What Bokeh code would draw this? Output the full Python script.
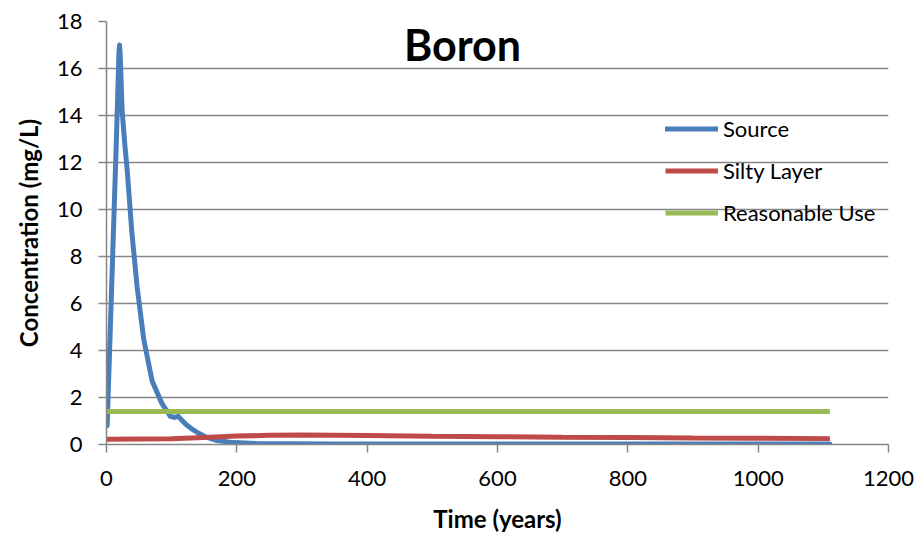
from bokeh.plotting import figure
from bokeh.models import Range1d, Legend, LegendItem, Label, FixedTicker
from bokeh.embed import file_html
from bokeh.resources import INLINE

# Data
source_t = [1, 5, 10, 15, 19, 20, 21, 24, 28, 32, 39, 47, 57, 70, 85, 98, 104, 110, 115, 122, 129, 140, 154, 170, 195, 230, 280, 350, 450, 600, 800, 1000, 1110]
source_c = [0.8, 4.2, 8.5, 12.8, 16.6, 17.0, 16.6, 14.2, 12.8, 11.6, 9.0, 6.7, 4.5, 2.7, 1.75, 1.2, 1.15, 1.2, 1.05, 0.85, 0.7, 0.5, 0.3, 0.17, 0.08, 0.04, 0.03, 0.02, 0.02, 0.02, 0.02, 0.02, 0.02]
silty_t = [0, 100, 150, 200, 250, 300, 400, 500, 600, 700, 800, 900, 1000, 1110]
silty_c = [0.22, 0.24, 0.3, 0.36, 0.39, 0.4, 0.38, 0.35, 0.33, 0.31, 0.3, 0.28, 0.27, 0.25]
use_t = [0, 1110]
use_c = [1.4, 1.4]
x_ticks = [0, 200, 400, 600, 800, 1000, 1200]
y_ticks = [0, 2, 4, 6, 8, 10, 12, 14, 16, 18]

FONT = "Lato"
GRID = "#868686"

p = figure(width=919, height=535, output_backend="svg", toolbar_location=None,
           x_range=Range1d(0, 1200), y_range=Range1d(0, 18),
           min_border_left=106, min_border_right=31, min_border_top=21, min_border_bottom=90)
p.outline_line_color = None
p.xgrid.grid_line_color = None
p.ygrid.grid_line_color = GRID
p.ygrid.grid_line_width = 1.5
p.ygrid.ticker = FixedTicker(ticks=y_ticks)

for ax in (p.xaxis[0], p.yaxis[0]):
    ax.axis_line_color = GRID
    ax.axis_line_width = 1.5
    ax.major_tick_line_color = GRID
    ax.major_tick_line_width = 1.5
    ax.major_tick_in = 0
    ax.major_tick_out = 8
    ax.minor_tick_line_color = None
    ax.major_label_text_font = FONT
    ax.major_label_text_font_size = "22px"
    ax.major_label_text_color = "#000000"
    ax.axis_label_text_font = FONT
    ax.axis_label_text_font_style = "bold"
    ax.axis_label_text_font_size = "24px"
    ax.axis_label_text_color = "#000000"

p.xaxis.ticker = FixedTicker(ticks=x_ticks)
p.yaxis.ticker = FixedTicker(ticks=y_ticks)
p.xaxis.axis_label = "Time (years)"
p.yaxis.axis_label = "Concentration (mg/L)"
p.xaxis.major_label_standoff = 18
p.yaxis.major_label_standoff = 16
p.xaxis.axis_label_standoff = 15
p.yaxis.axis_label_standoff = 11

r1 = p.line(source_t, source_c, line_color="#4A7EBB", line_width=5, line_join="round", line_cap="round")
r2 = p.line(silty_t, silty_c, line_color="#BE4B48", line_width=5)
r3 = p.line(use_t, use_c, line_color="#98B954", line_width=5)

legend = Legend(items=[LegendItem(label="Source", renderers=[r1]),
                       LegendItem(label="Silty Layer", renderers=[r2]),
                       LegendItem(label="Reasonable Use", renderers=[r3])],
                location=(559, 217), orientation="vertical",
                background_fill_alpha=0, border_line_color=None,
                glyph_width=53, glyph_height=29, label_height=29, spacing=13,
                padding=0, margin=0, label_standoff=5,
                label_text_font=FONT, label_text_font_size="22px", label_text_color="#000000")
p.add_layout(legend, "center")

title = Label(x=356, y=400, x_units="screen", y_units="screen", text="Boron",
              text_font=FONT, text_font_style="bold", text_font_size="43px",
              text_align="center", text_baseline="middle", text_color="#000000")
p.add_layout(title)

open("out.html", "w").write(file_html(p, INLINE))
